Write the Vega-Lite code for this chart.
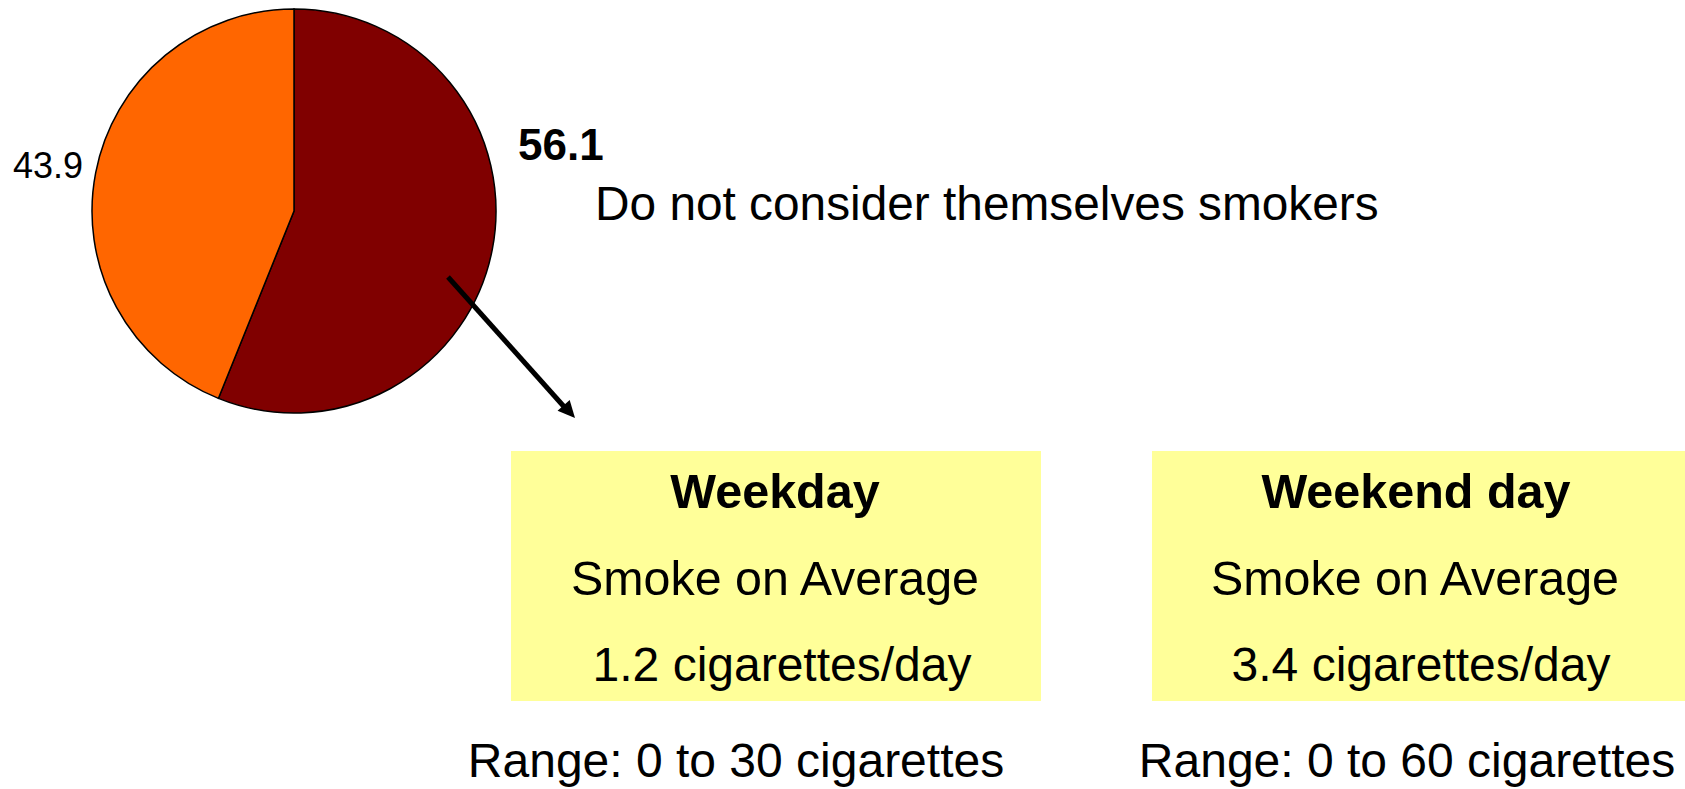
{
  "$schema": "https://vega.github.io/schema/vega-lite/v6.json",
  "width": 1685,
  "height": 789,
  "autosize": {"type": "fit", "contains": "padding"},
  "padding": 0,
  "background": "white",
  "config": {"view": {"stroke": null}, "font": "Liberation Sans", "text": {"font": "Liberation Sans", "color": "black"}},
  "datasets": {
    "pie": [
      {"group": "Do not consider themselves smokers", "percent": 56.1},
      {"group": "Consider themselves smokers", "percent": 43.9}
    ],
    "days": [
      {"day": "Weekday", "average": "1.2 cigarettes/day", "range": "Range: 0 to 30 cigarettes"},
      {"day": "Weekend day", "average": "3.4 cigarettes/day", "range": "Range: 0 to 60 cigarettes"}
    ]
  },
  "layer": [
    {
      "data": {"name": "pie"},
      "mark": {"type": "arc", "outerRadius": 202, "stroke": "black", "strokeWidth": 1.5},
      "encoding": {
        "x": {"datum": 294, "type": "quantitative", "scale": {"domain": [0, 1685], "nice": false, "zero": false}, "axis": null},
        "y": {"datum": 211, "type": "quantitative", "scale": {"domain": [0, 789], "nice": false, "zero": false, "reverse": true}, "axis": null},
        "theta": {"field": "percent", "type": "quantitative", "stack": true},
        "color": {"field": "group", "type": "nominal", "scale": {"domain": ["Do not consider themselves smokers", "Consider themselves smokers"], "range": ["#800000", "#FF6600"]}, "legend": null},
        "order": {"field": "percent", "sort": "descending"}
      }
    },
    {
      "data": {"name": "pie"},
      "transform": [{"filter": "datum.group === 'Do not consider themselves smokers'"}],
      "mark": {"type": "text", "fontSize": 44, "fontWeight": "bold", "align": "left", "baseline": "alphabetic"},
      "encoding": {
        "x": {"datum": 518, "type": "quantitative"},
        "y": {"datum": 160, "type": "quantitative"},
        "text": {"field": "percent", "type": "quantitative", "format": ".1f"}
      }
    },
    {
      "data": {"name": "pie"},
      "transform": [{"filter": "datum.group === 'Do not consider themselves smokers'"}],
      "mark": {"type": "text", "fontSize": 47.8, "align": "left", "baseline": "alphabetic"},
      "encoding": {
        "x": {"datum": 595, "type": "quantitative"},
        "y": {"datum": 220, "type": "quantitative"},
        "text": {"field": "group", "type": "nominal"}
      }
    },
    {
      "data": {"name": "pie"},
      "transform": [{"filter": "datum.group === 'Consider themselves smokers'"}],
      "mark": {"type": "text", "fontSize": 36, "align": "left", "baseline": "alphabetic"},
      "encoding": {
        "x": {"datum": 13, "type": "quantitative"},
        "y": {"datum": 178, "type": "quantitative"},
        "text": {"field": "percent", "type": "quantitative", "format": ".1f"}
      }
    },
    {
      "data": {"name": "pie"},
      "transform": [{"filter": "datum.group === 'Do not consider themselves smokers'"}],
      "mark": {"type": "rule", "color": "black", "strokeWidth": 5},
      "encoding": {
        "x": {"datum": 448, "type": "quantitative"},
        "y": {"datum": 277, "type": "quantitative"},
        "x2": {"datum": 567},
        "y2": {"datum": 410}
      }
    },
    {
      "data": {"name": "pie"},
      "transform": [{"filter": "datum.group === 'Do not consider themselves smokers'"}],
      "mark": {"type": "point", "shape": "M0,0L-1,-0.48L-1,0.48Z", "size": 1156, "angle": 48, "filled": true, "color": "black", "opacity": 1, "strokeWidth": 0},
      "encoding": {
        "x": {"datum": 575, "type": "quantitative"},
        "y": {"datum": 418, "type": "quantitative"}
      }
    },
    {
      "data": {"name": "days"},
      "transform": [{"filter": "datum.day === 'Weekday'"}],
      "mark": {"type": "rect", "color": "#FFFF99"},
      "encoding": {
        "x": {"datum": 511, "type": "quantitative"},
        "x2": {"datum": 1041},
        "y": {"datum": 451, "type": "quantitative"},
        "y2": {"datum": 701}
      }
    },
    {
      "data": {"name": "days"},
      "transform": [{"filter": "datum.day === 'Weekend day'"}],
      "mark": {"type": "rect", "color": "#FFFF99"},
      "encoding": {
        "x": {"datum": 1152, "type": "quantitative"},
        "x2": {"datum": 1685},
        "y": {"datum": 451, "type": "quantitative"},
        "y2": {"datum": 701}
      }
    },
    {
      "data": {"name": "days"},
      "transform": [{"filter": "datum.day === 'Weekday'"}],
      "mark": {"type": "text", "fontSize": 48.5, "fontWeight": "bold", "align": "center", "baseline": "alphabetic"},
      "encoding": {
        "x": {"datum": 775, "type": "quantitative"},
        "y": {"datum": 508, "type": "quantitative"},
        "text": {"field": "day", "type": "nominal"}
      }
    },
    {
      "data": {"name": "days"},
      "transform": [{"filter": "datum.day === 'Weekend day'"}],
      "mark": {"type": "text", "fontSize": 48.5, "fontWeight": "bold", "align": "center", "baseline": "alphabetic"},
      "encoding": {
        "x": {"datum": 1416, "type": "quantitative"},
        "y": {"datum": 508, "type": "quantitative"},
        "text": {"field": "day", "type": "nominal"}
      }
    },
    {
      "data": {"name": "days"},
      "transform": [{"filter": "datum.day === 'Weekday'"}],
      "mark": {"type": "text", "fontSize": 48.4, "align": "center", "baseline": "alphabetic", "text": "Smoke on Average"},
      "encoding": {
        "x": {"datum": 775, "type": "quantitative"},
        "y": {"datum": 595, "type": "quantitative"}
      }
    },
    {
      "data": {"name": "days"},
      "transform": [{"filter": "datum.day === 'Weekend day'"}],
      "mark": {"type": "text", "fontSize": 48.4, "align": "center", "baseline": "alphabetic", "text": "Smoke on Average"},
      "encoding": {
        "x": {"datum": 1415, "type": "quantitative"},
        "y": {"datum": 595, "type": "quantitative"}
      }
    },
    {
      "data": {"name": "days"},
      "transform": [{"filter": "datum.day === 'Weekday'"}],
      "mark": {"type": "text", "fontSize": 48, "align": "center", "baseline": "alphabetic"},
      "encoding": {
        "x": {"datum": 782, "type": "quantitative"},
        "y": {"datum": 681, "type": "quantitative"},
        "text": {"field": "average", "type": "nominal"}
      }
    },
    {
      "data": {"name": "days"},
      "transform": [{"filter": "datum.day === 'Weekend day'"}],
      "mark": {"type": "text", "fontSize": 48, "align": "center", "baseline": "alphabetic"},
      "encoding": {
        "x": {"datum": 1421, "type": "quantitative"},
        "y": {"datum": 681, "type": "quantitative"},
        "text": {"field": "average", "type": "nominal"}
      }
    },
    {
      "data": {"name": "days"},
      "transform": [{"filter": "datum.day === 'Weekday'"}],
      "mark": {"type": "text", "fontSize": 48, "align": "center", "baseline": "alphabetic"},
      "encoding": {
        "x": {"datum": 736, "type": "quantitative"},
        "y": {"datum": 777, "type": "quantitative"},
        "text": {"field": "range", "type": "nominal"}
      }
    },
    {
      "data": {"name": "days"},
      "transform": [{"filter": "datum.day === 'Weekend day'"}],
      "mark": {"type": "text", "fontSize": 48, "align": "center", "baseline": "alphabetic"},
      "encoding": {
        "x": {"datum": 1407, "type": "quantitative"},
        "y": {"datum": 777, "type": "quantitative"},
        "text": {"field": "range", "type": "nominal"}
      }
    }
  ]
}
